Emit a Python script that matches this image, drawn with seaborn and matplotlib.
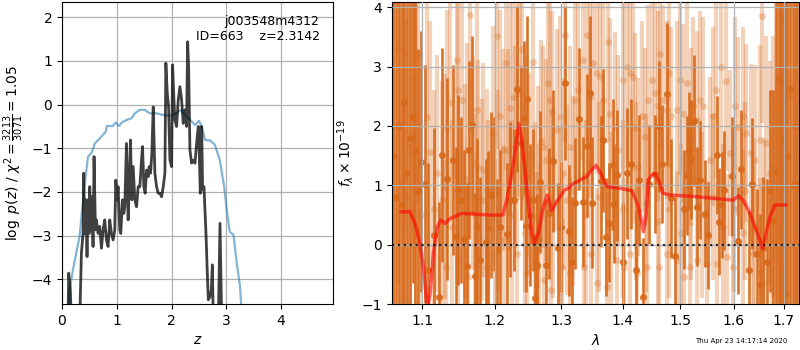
import numpy as np
import pandas as pd
import matplotlib
matplotlib.use("Agg")
import matplotlib.pyplot as plt
from matplotlib.ticker import FixedLocator, FormatStrFormatter, NullLocator
import seaborn as sns

# ---------------- redshift probability ----------------
pz_z = [0.110, 0.122, 0.152, 0.171, 0.323, 0.341, 0.354, 0.384, 0.396, 0.415,
        0.433, 0.457, 0.476, 0.494, 0.506, 0.524, 0.543, 0.567, 0.585, 0.610,
        0.628, 0.659, 0.689, 0.720, 0.750, 0.780, 0.811, 0.841, 0.872, 0.902,
        0.933, 0.963, 0.982, 1.006, 1.024, 1.055, 1.073, 1.104, 1.128, 1.146,
        1.177, 1.207, 1.226, 1.250, 1.274, 1.299, 1.329, 1.360, 1.390, 1.421,
        1.451, 1.470, 1.494, 1.518, 1.543, 1.573, 1.591, 1.616, 1.640, 1.665,
        1.695, 1.726, 1.756, 1.787, 1.817, 1.848, 1.878, 1.896, 1.921, 1.945,
        1.970, 2.000, 2.018, 2.043, 2.061, 2.091, 2.122, 2.152, 2.183, 2.213,
        2.244, 2.274, 2.293, 2.311, 2.335, 2.366, 2.396, 2.427, 2.457, 2.488,
        2.506, 2.524, 2.549, 2.567, 2.591, 2.628, 2.652, 2.671, 2.701, 2.726,
        2.744, 2.762, 2.854, 2.884, 2.915]
pz_logp = [-5.00, -3.86, -4.24, -5.00, -5.00, -4.09, -3.40, -2.95, -1.57, -2.95,
           -2.18, -3.48, -2.18, -2.95, -1.88, -2.87, -2.11, -3.25, -1.19, -2.87,
           -2.64, -2.95, -2.79, -3.29, -2.87, -2.64, -3.10, -3.25, -2.64, -2.95,
           -3.10, -2.87, -1.73, -2.18, -1.88, -2.87, -2.95, -2.18, -2.49, -2.34,
           -0.89, -2.64, -1.88, -0.81, -2.18, -1.42, -2.18, -2.34, -1.88, -1.88,
           -1.27, -0.96, -1.88, -2.03, -1.50, -1.65, -1.42, -1.57, -1.12, -0.05,
           -1.57, -1.88, -2.03, -2.03, -2.11, -1.88, -1.57, 0.95, 0.26, -0.05,
           -1.27, -1.42, 0.91, 0.11, -0.35, -0.50, 0.11, 0.41, 0.11, -0.43,
           -0.12, -0.50, 1.44, 0.87, -1.04, -1.34, -1.27, -1.34, -0.89, -0.50,
           -1.12, -2.03, -0.50, -1.95, -1.88, -2.95, -3.86, -4.47, -4.40, -4.24,
           -3.67, -5.00, -5.00, -2.72, -5.00]

prior_z = [0.12, 0.14, 0.20, 0.32, 0.415, 0.476, 0.537, 0.60, 0.69, 0.80,
           0.82, 0.93, 0.98, 1.04, 1.09, 1.18, 1.27, 1.33, 1.42, 1.51,
           1.60, 1.73, 1.85, 1.97, 2.09, 2.17, 2.24, 2.34, 2.43, 2.50,
           2.55, 2.61, 2.70, 2.79, 2.88, 2.96, 3.00, 3.06, 3.13, 3.19,
           3.25, 3.28]
prior_logp = [-4.80, -4.24, -3.78, -3.02, -1.80, -1.19, -1.11, -0.89, -0.77, -0.62,
              -0.49, -0.49, -0.41, -0.49, -0.41, -0.35, -0.31, -0.20, -0.12, -0.12,
              -0.20, -0.20, -0.24, -0.25, -0.20, -0.12, -0.24, -0.35, -0.47, -0.37,
              -0.50, -0.81, -0.82, -0.92, -1.27, -1.88, -2.34, -2.91, -2.98, -3.63,
              -4.17, -4.80]

# ---------------- 1D spectrum ----------------
# individual (unbinned) flux points
raw_wave = [1.062, 1.068, 1.071, 1.076, 1.079, 1.083, 1.087, 1.091, 1.0947, 1.098,
            1.1057, 1.1102, 1.115, 1.1191, 1.1259, 1.1304, 1.1315, 1.1327, 1.1372, 1.140,
            1.1473, 1.1480, 1.1487, 1.1538, 1.158, 1.1603, 1.1615, 1.165, 1.1696, 1.172,
            1.1743, 1.1750, 1.1767, 1.1814, 1.1838, 1.1885, 1.1895, 1.190, 1.1981, 1.2005,
            1.203, 1.205, 1.2078, 1.2127, 1.2135, 1.2166, 1.220, 1.2224, 1.225, 1.2264,
            1.2298, 1.2322, 1.2330, 1.2372, 1.2397, 1.245, 1.2440, 1.2472, 1.2480, 1.2507,
            1.2562, 1.2597, 1.2622, 1.2648, 1.2660, 1.2683, 1.2724, 1.2730, 1.2765, 1.2801,
            1.2826, 1.2835, 1.2852, 1.287, 1.293, 1.2982, 1.300, 1.3008, 1.3034, 1.306,
            1.3086, 1.3139, 1.3145, 1.3190, 1.3218, 1.3271, 1.3351, 1.3360, 1.340, 1.3406,
            1.346, 1.3468, 1.3514, 1.3568, 1.3575, 1.360, 1.3622, 1.3677, 1.3732, 1.3759,
            1.3787, 1.380, 1.387, 1.3899, 1.3926, 1.400, 1.401, 1.4018, 1.4066, 1.4123,
            1.4130, 1.418, 1.4208, 1.4220, 1.4236, 1.4265, 1.4322, 1.4379, 1.440, 1.4409,
            1.4438, 1.4496, 1.4554, 1.460, 1.4612, 1.4620, 1.4641, 1.470, 1.4759, 1.4765,
            1.480, 1.4806, 1.4848, 1.4939, 1.4945, 1.4999, 1.5020, 1.5059, 1.5065, 1.5119,
            1.518, 1.520, 1.521, 1.5241, 1.5302, 1.5310, 1.5363, 1.540, 1.5425, 1.5488,
            1.5549, 1.560, 1.5611, 1.5674, 1.5680, 1.5768, 1.580, 1.5863, 1.5870, 1.5927,
            1.5991, 1.600, 1.6023, 1.6088, 1.6185, 1.6190, 1.6220, 1.625, 1.6348, 1.6381,
            1.6400, 1.6413, 1.6512, 1.6520, 1.6565, 1.6578, 1.660, 1.6646, 1.6713, 1.675,
            1.678, 1.6847, 1.6850, 1.690, 1.695, 1.700, 1.705, 1.712]
raw_flux = [2.00, 3.30, 1.00, 3.25, 0.80, 1.65, 2.80, 1.30, 3.21, 0.50,
            2.15, 1.57, 0.60, 1.20, 0.75, 0.98, -0.37, 1.96, 2.41, 0.30,
            3.11, -0.26, 2.61, 2.44, 0.90, 1.60, -0.54, 3.87, 1.37, 0.50,
            2.27, -0.15, 1.31, 0.75, 1.26, 0.92, -0.37, 0.40, 1.88, -0.15,
            3.52, 0.90, 2.16, 1.60, 0.08, 3.06, 1.60, 2.30, 0.50, 2.49,
            1.65, 2.61, -0.15, 2.55, 3.29, 0.20, 0.81, 1.48, -0.48, 1.20,
            3.08, 0.47, -0.37, 0.98, 0.10, 1.74, 1.65, -0.60, 1.43, 2.72,
            2.44, -0.76, 2.24, 0.70, 1.93, 2.15, 0.40, -0.37, 1.20, 3.53,
            0.75, 1.65, -0.48, 0.90, 2.44, 2.61, 3.11, -0.37, 0.50, 3.53,
            2.49, -0.15, 3.06, 2.89, -0.65, 0.80, 2.83, 2.44, -0.71, 3.42,
            2.21, 0.30, 1.99, -0.26, 1.60, 0.60, 2.78, -0.37, 3.00, 2.89,
            -0.15, 2.83, 1.96, 0.90, -0.48, 1.31, 2.16, 1.82, 0.70, -0.37,
            2.44, 2.78, 2.55, 0.40, 2.33, -0.37, 3.22, 2.44, 2.27, -0.15,
            0.60, 2.89, 2.16, 2.27, -0.26, 2.78, 0.20, 2.21, -0.54, 2.72,
            -0.37, 0.90, 1.82, 2.33, 2.10, -0.26, 2.44, 0.50, 2.33, -0.32,
            1.43, 0.80, 2.16, 2.61, -0.32, 3.00, 0.30, 2.75, -0.21, 1.54,
            -0.37, 0.60, 2.33, 1.99, 2.16, 0.19, 0.90, 1.88, 1.54, -0.15,
            0.30, 1.43, 1.76, -0.48, 3.85, -0.65, 0.10, 1.71, 1.20, 0.60,
            1.31, 2.33, 0.19, 2.00, 1.00, 3.80, 0.50, 2.50]
raw_err = [4.0, 4.0, 3.5, 3.0, 3.0, 3.0, 2.8, 2.8, 2.5, 2.5,
           2.2, 2.2, 2.0, 2.0, 2.0, 1.9, 1.8, 2.0, 2.0, 1.8,
           2.0, 1.8, 2.0, 1.9, 1.8, 1.8, 1.7, 2.0, 1.8, 1.7,
           1.8, 1.7, 1.8, 1.7, 1.8, 1.7, 1.6, 1.7, 1.8, 1.6,
           1.9, 1.7, 1.8, 1.7, 1.6, 1.8, 1.7, 1.8, 1.6, 1.8,
           1.7, 1.8, 1.6, 1.8, 1.8, 1.6, 1.6, 1.7, 1.6, 1.7,
           1.8, 1.6, 1.6, 1.7, 1.6, 1.7, 1.7, 1.6, 1.7, 1.8,
           1.7, 1.6, 1.7, 1.6, 1.7, 1.7, 1.6, 1.6, 1.6, 1.8,
           1.6, 1.7, 1.6, 1.6, 1.7, 1.7, 1.7, 1.6, 1.6, 1.8,
           1.7, 1.6, 1.7, 1.7, 1.6, 1.6, 1.7, 1.7, 1.6, 1.7,
           1.6, 1.6, 1.6, 1.5, 1.6, 1.5, 1.6, 1.5, 1.7, 1.6,
           1.5, 1.6, 1.6, 1.5, 1.5, 1.5, 1.6, 1.5, 1.5, 1.5,
           1.6, 1.6, 1.6, 1.5, 1.6, 1.5, 1.6, 1.6, 1.5, 1.5,
           1.5, 1.6, 1.5, 1.5, 1.5, 1.6, 1.5, 1.5, 1.5, 1.6,
           1.5, 1.5, 1.5, 1.5, 1.5, 1.4, 1.5, 1.4, 1.5, 1.4,
           1.4, 1.4, 1.5, 1.5, 1.4, 1.5, 1.4, 1.5, 1.4, 1.4,
           1.4, 1.4, 1.5, 1.5, 1.5, 1.4, 1.5, 1.5, 1.5, 1.5,
           1.5, 1.6, 1.6, 1.6, 1.8, 1.6, 1.7, 1.8, 1.9, 2.0,
           2.2, 2.6, 2.6, 3.0, 3.2, 3.5, 3.5, 4.0]

# binned flux points
bin_wave = [1.062, 1.066, 1.069, 1.073, 1.076, 1.080, 1.083, 1.087, 1.090, 1.094,
            1.098, 1.1035, 1.108, 1.1156, 1.1228, 1.1268, 1.1336, 1.1418, 1.1456, 1.1487,
            1.1525, 1.1566, 1.1613, 1.164, 1.1683, 1.1725, 1.1753, 1.179, 1.188, 1.191,
            1.1948, 1.1985, 1.2035, 1.2078, 1.2185, 1.2224, 1.2284, 1.2323, 1.2387, 1.2437,
            1.2462, 1.2482, 1.2522, 1.2562, 1.2597, 1.2632, 1.2673, 1.2766, 1.2816, 1.2877,
            1.2956, 1.2992, 1.3066, 1.3129, 1.3177, 1.3224, 1.3288, 1.3352, 1.3418, 1.346,
            1.3493, 1.3634, 1.3677, 1.3722, 1.3776, 1.3833, 1.3855, 1.3911, 1.4011, 1.4079,
            1.4146, 1.4232, 1.4284, 1.4342, 1.4457, 1.4561, 1.4621, 1.4674, 1.4762, 1.4843,
            1.4915, 1.507, 1.5119, 1.5166, 1.5203, 1.5253, 1.5314, 1.5365, 1.5457, 1.5519,
            1.5677, 1.5726, 1.5772, 1.582, 1.5961, 1.6091, 1.6138, 1.6306, 1.6359, 1.6464,
            1.6517, 1.657, 1.6663, 1.6720, 1.678, 1.6839, 1.6906, 1.6947, 1.6985, 1.7016,
            1.706, 1.713, 1.718, 1.723, 1.728]
bin_flux = [1.50, 0.80, 2.00, 0.67, 2.40, 1.20, 1.80, 2.15, 1.58, 0.90,
            1.40, 1.02, -0.43, 0.16, -0.88, 1.51, 1.10, 1.43, 0.15, 0.92,
            0.75, 0.10, -0.36, 1.60, 2.02, -0.53, 0.30, -0.26, 0.05, 0.28,
            0.84, 0.85, -0.09, 0.30, 0.18, 0.76, 0.75, 2.62, 1.71, 2.13,
            0.31, 2.45, 0.50, 0.75, -0.90, -0.34, 1.06, -0.34, 0.53, 1.41,
            -0.06, 0.30, 2.72, 0.24, -0.29, 0.70, 2.12, 0.72, 1.67, 2.55,
            0.71, 1.07, 1.76, 0.13, 0.37, 1.35, 0.69, 1.17, -0.29, 1.20,
            1.36, -0.42, 1.09, -0.88, 1.02, 1.19, 1.99, 1.36, 2.54, 0.78,
            -0.19, 0.60, 1.17, 1.58, 1.44, 2.09, 0.64, 1.09, 0.52, 0.16,
            1.51, 0.39, 0.67, 0.92, 1.15, 0.07, 1.27, -0.43, 1.03, -0.16,
            -0.68, -0.06, -0.29, 0.90, 0.40, 1.23, 2.82, 2.75, 1.80, -0.85,
            1.50, 2.62, 1.00, 2.00, 1.00]
bin_err = [4.0, 5.0, 4.5, 3.5, 4.0, 3.0, 3.2, 2.8, 2.6, 2.4,
           2.2, 2.0, 1.8, 1.8, 1.6, 1.8, 1.7, 1.6, 1.5, 1.6,
           1.4, 1.5, 1.4, 1.5, 1.5, 1.4, 1.5, 1.4, 1.4, 1.3,
           1.4, 1.3, 1.2, 1.3, 1.2, 1.3, 1.2, 1.4, 1.3, 1.3,
           1.1, 1.4, 1.2, 1.2, 1.1, 1.2, 1.2, 1.1, 1.1, 1.2,
           1.1, 1.1, 1.3, 1.1, 1.1, 1.1, 1.2, 1.1, 1.2, 1.3,
           1.1, 1.1, 1.2, 1.0, 1.0, 1.1, 1.0, 1.1, 1.0, 1.1,
           1.1, 1.0, 1.1, 1.0, 1.0, 1.0, 1.1, 1.0, 1.2, 1.0,
           1.0, 1.0, 1.0, 1.0, 1.0, 1.1, 1.0, 1.0, 0.9, 0.9,
           1.0, 0.9, 0.9, 1.0, 1.0, 0.9, 1.0, 1.0, 1.1, 1.1,
           1.2, 1.2, 1.4, 1.7, 2.2, 3.5, 4.0, 4.5, 5.0, 5.5,
           5.5, 6.0, 6.0, 6.0, 6.0]

# best-fit template
model_wave = [1.0722, 1.0838, 1.0917, 1.0969, 1.1013, 1.1066, 1.1103, 1.1146, 1.1200, 1.1246,
              1.1305, 1.1373, 1.1534, 1.1934, 1.2118, 1.2176, 1.2250, 1.2323, 1.2353, 1.2397,
              1.2472, 1.2548, 1.2582, 1.2648, 1.2724, 1.2785, 1.2853, 1.2930, 1.3050, 1.3113,
              1.3192, 1.3299, 1.3406, 1.3487, 1.3557, 1.3622, 1.3733, 1.3956, 1.4154, 1.4228,
              1.4296, 1.4353, 1.4399, 1.4440, 1.4498, 1.4556, 1.4614, 1.4702, 1.4822, 1.5305,
              1.5993, 1.6091, 1.6188, 1.6319, 1.6418, 1.6517, 1.6570, 1.6636, 1.6717, 1.6818,
              1.7044]
model_flux = [0.556, 0.556, 0.30, -0.006, -0.37, -1.10, -0.82, -0.146, 0.30, 0.416,
              0.36, 0.44, 0.53, 0.50, 0.50, 0.753, 1.20, 1.76, 2.04, 1.76,
              0.98, 0.19, 0.02, 0.19, 0.64, 0.84, 0.58, 0.72, 0.92, 0.95,
              1.03, 1.09, 1.15, 1.26, 1.34, 1.23, 0.98, 0.95, 0.91, 0.75,
              0.53, 0.22, 0.47, 1.09, 1.17, 1.20, 1.09, 0.865, 0.84, 0.81,
              0.75, 0.82, 0.75, 0.53, 0.30, 0.08, -0.06, 0.19, 0.47, 0.67,
              0.67]

pz_df = pd.DataFrame({"z": pz_z, "logp": pz_logp})
prior_df = pd.DataFrame({"z": prior_z, "logp": prior_logp})
model_df = pd.DataFrame({"wave": model_wave, "flux": model_flux})

spec_color = "#d86a1c"

fig = plt.figure(figsize=(8, 3.5), dpi=100)
ax1 = fig.add_axes([0.0775, 0.131, 0.339, 0.862])
ax2 = fig.add_axes([0.4896, 0.131, 0.509, 0.862])

# left: log p(z)
sns.lineplot(data=prior_df, x="z", y="logp", ax=ax1, sort=False, estimator=None,
             color="#1f77b4", alpha=0.55, linewidth=1.6, zorder=3)
sns.lineplot(data=pz_df, x="z", y="logp", ax=ax1, sort=False, estimator=None,
             color="black", alpha=0.75, linewidth=2.0, zorder=4)
ax1.set_xlim(0, 4.95)
ax1.set_ylim(-4.57, 2.34)
ax1.set_xlabel("$z$", fontsize=10)
ax1.set_ylabel(r"$\log\ p(z)$ / $\chi^2=\frac{3213}{3071}=1.05$", fontsize=10)
ax1.grid(True, color="#b0b0b0", linewidth=0.9)
ax1.set_axisbelow(True)
ax1.text(0.95, 0.96, "j003548m4312\nID=663    z=2.3142", transform=ax1.transAxes,
         ha="right", va="top", multialignment="right", fontsize=9)

# right: spectrum
ax2.errorbar(raw_wave, raw_flux, yerr=raw_err, fmt="o", color=spec_color,
             ecolor=spec_color, alpha=0.3, markersize=5, elinewidth=3,
             capsize=0, markeredgewidth=0, zorder=1)
ax2.errorbar(bin_wave, bin_flux, yerr=bin_err, fmt="o", color=spec_color,
             ecolor=spec_color, alpha=0.95, markersize=5, elinewidth=1.9,
             capsize=0, markeredgewidth=0, zorder=2)
sns.lineplot(data=model_df, x="wave", y="flux", ax=ax2, sort=False, estimator=None,
             color="red", alpha=0.6, linewidth=2.5, zorder=5)
ax2.axhline(0, color="black", linestyle=":", linewidth=1.6, alpha=0.8, zorder=6)

ax2.set_xscale("log")
ax2.set_xlim(1.06, 1.731)
ax2.set_ylim(-1, 4.08)
ax2.xaxis.set_major_locator(FixedLocator([1.1, 1.2, 1.3, 1.4, 1.5, 1.6, 1.7]))
ax2.xaxis.set_major_formatter(FormatStrFormatter("%.1f"))
ax2.xaxis.set_minor_locator(NullLocator())
ax2.set_yticks([-1, 0, 1, 2, 3, 4])
ax2.set_xlabel(r"$\lambda$", fontsize=10)
ax2.set_ylabel(r"$f_\lambda\times10^{-19}$", fontsize=10)
ax2.set_axisbelow(False)
ax2.grid(True, color="#b0b0b0", linewidth=0.9, zorder=4)

fig.text(0.984, 0.027, "Thu Apr 23 14:17:14 2020", ha="right", va="center", fontsize=5)

fig.savefig("out.png", dpi=100)
